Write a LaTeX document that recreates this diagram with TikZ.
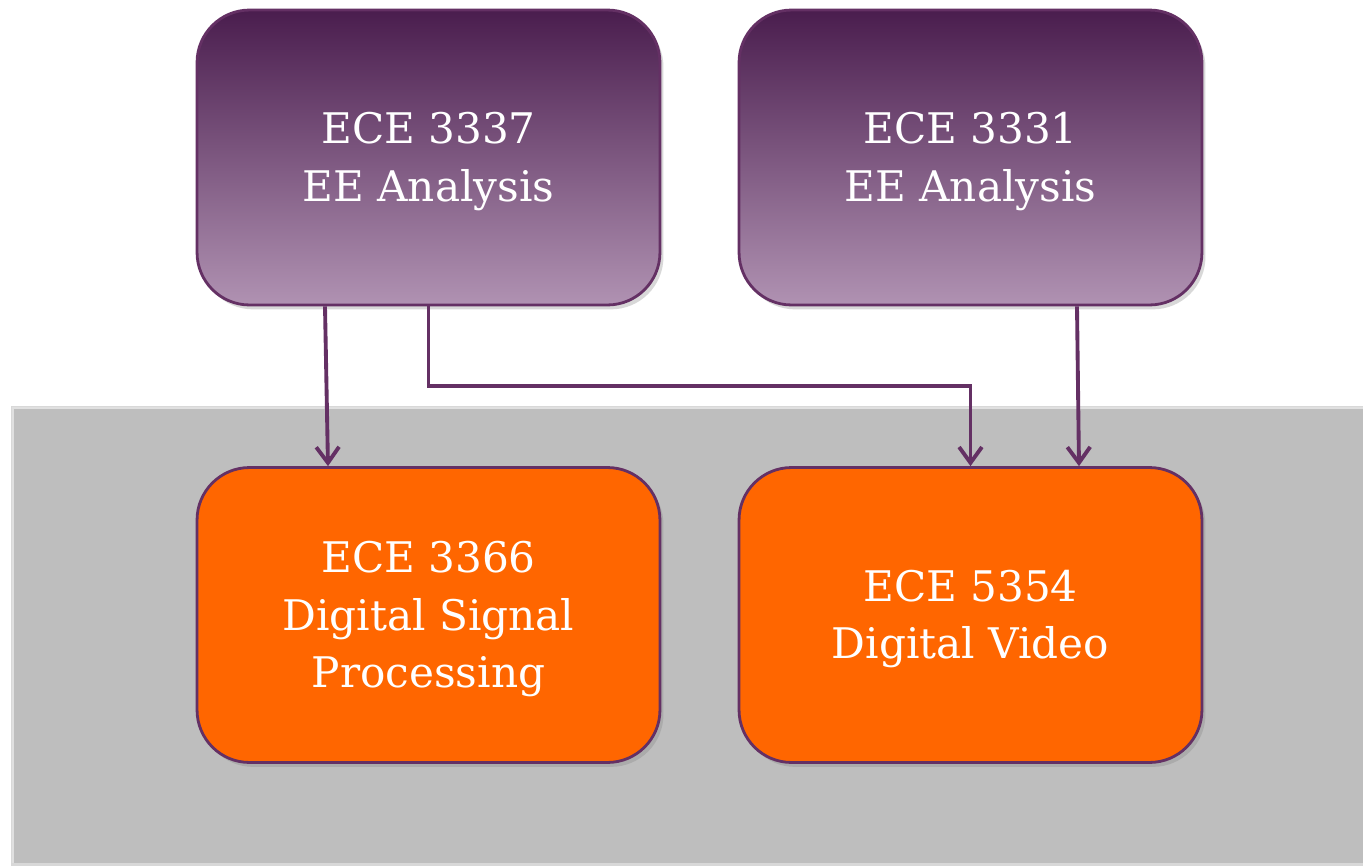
\documentclass[tikz,border=0pt]{standalone}
\usepackage{fontspec}
\setmainfont{DejaVu Serif}
\usetikzlibrary{arrows.meta,shadows,calc}
\definecolor{purpTop}{RGB}{74,29,78}
\definecolor{purpBot}{RGB}{176,146,178}
\definecolor{purpLine}{RGB}{100,48,100}
\definecolor{orangeFill}{RGB}{255,102,0}
\definecolor{grayBg}{RGB}{190,190,190}
\tikzset{
  course/.style={rounded corners=1.05cm, minimum width=9.26cm, minimum height=5.9cm,
    draw=purpLine, line width=1.6pt,
    drop shadow={opacity=0.3, shadow xshift=2pt, shadow yshift=-2.5pt}},
  txt/.style={text=white, align=center, font=\fontsize{24}{32.5}\selectfont, yshift=-2.3pt},
  prereq/.style={course, top color=purpTop, bottom color=purpBot},
  target/.style={course, fill=orangeFill},
  arr/.style={draw=purpLine, line width=2.2pt,
    -{Straight Barb[length=9pt,width=13pt,line width=2.2pt]}},
}
\begin{document}
\begin{tikzpicture}[x=0.02cm,y=-0.02cm]
\useasboundingbox (0,0) rectangle (1363,866);
\fill[white] (0,0) rectangle (1363,866);
\fill[black!30,opacity=0.5] (11,406) rectangle (1363,866);
\fill[grayBg] (13,408) rectangle (1363,863);
\draw[black!12,line width=1.2pt] (13,863) -- (13,408) -- (1363,408);

\node[prereq, label={[txt]center:{ECE 3337\\EE Analysis}}] (p1) at (428.5,157.5) {};
\node[prereq, label={[txt]center:{ECE 3331\\EE Analysis}}] (p2) at (970.5,157.5) {};
\node[target, label={[txt]center:{ECE 3366\\Digital Signal\\Processing}}] (o1) at (428.5,615) {};
\node[target, label={[txt]center:{ECE 5354\\Digital Video}}] (o2) at (970.5,615) {};

\draw[arr] ($(p1.south)+(-103.5,0)$) -- ($(o1.north)+(-100.5,0)$);
\draw[arr] (p1.south) -- ++(0,80) -| (o2.north);
\draw[arr] ($(p2.south)+(106.5,0)$) -- ($(o2.north)+(108.5,0)$);
\end{tikzpicture}
\end{document}
